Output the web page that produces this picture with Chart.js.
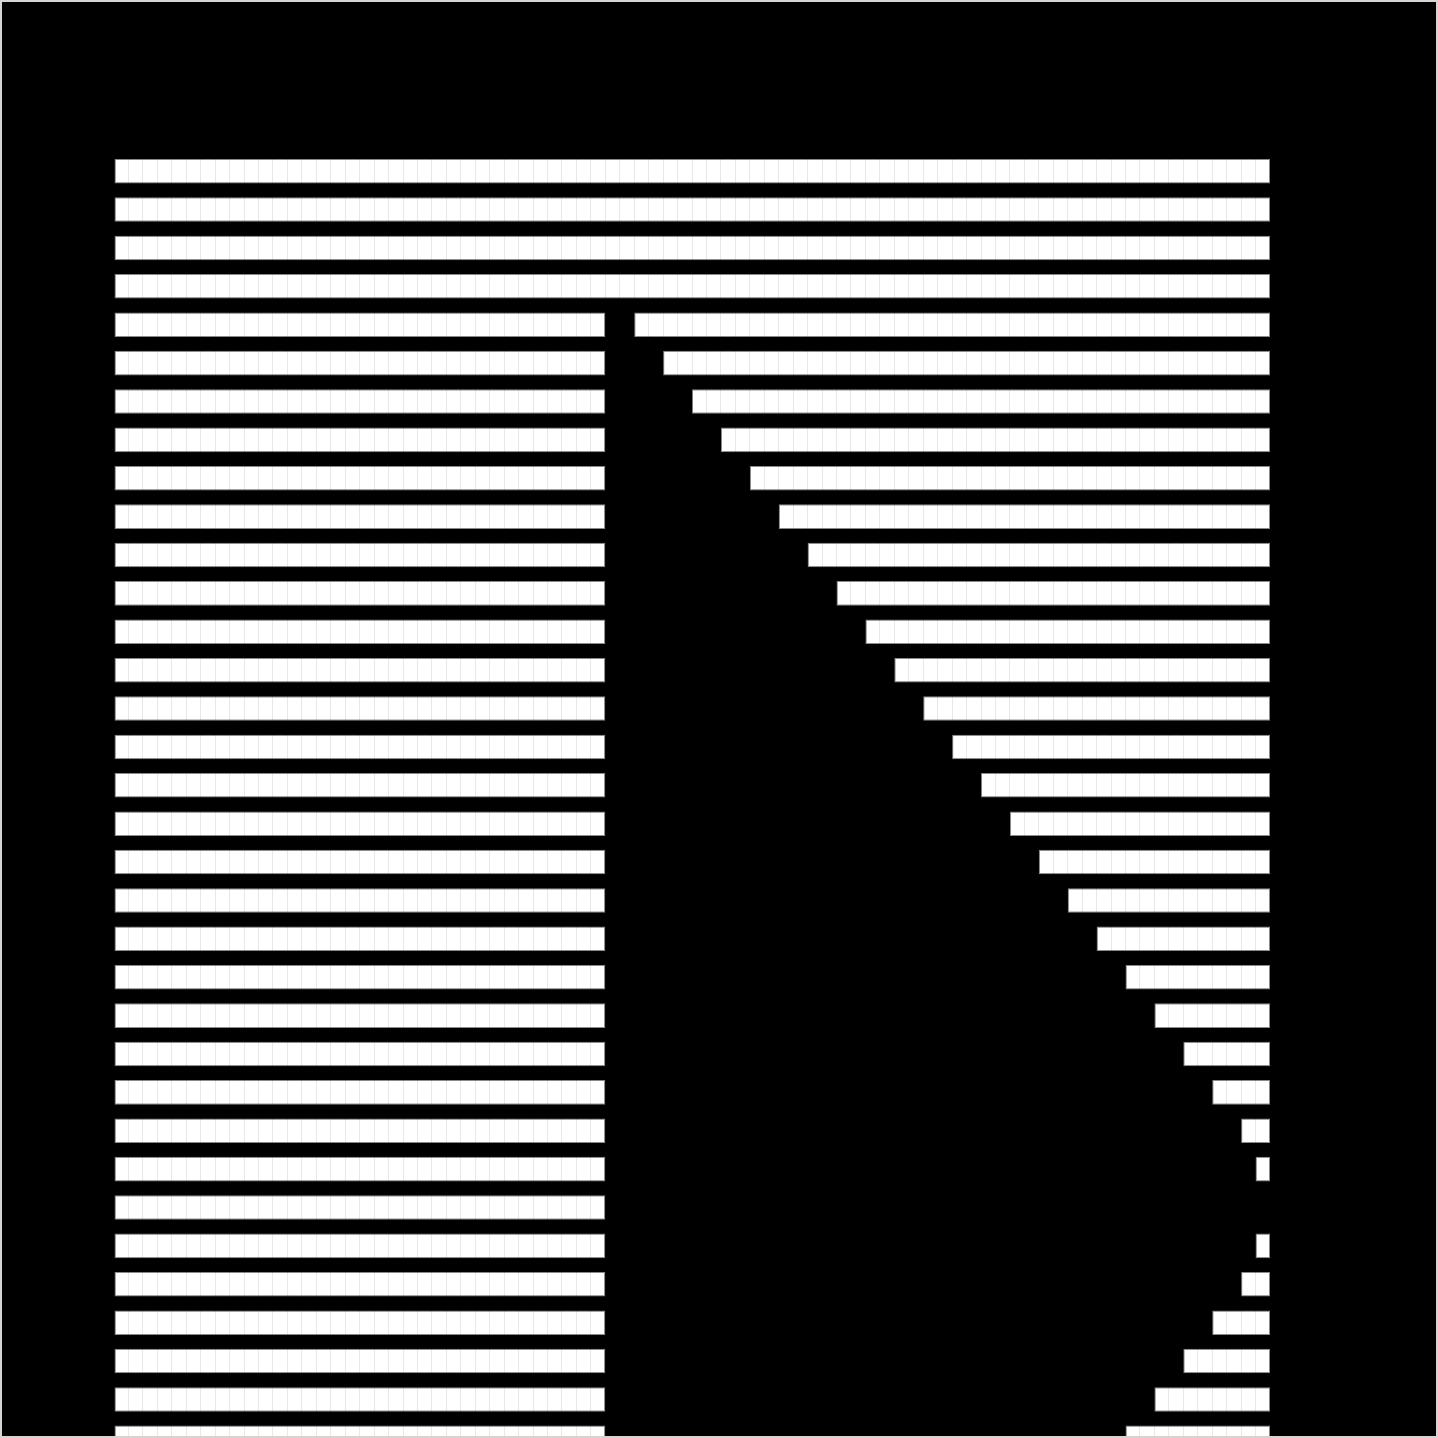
<!DOCTYPE html>
<html>
<head>
<meta charset="utf-8">
<script src="https://cdn.jsdelivr.net/npm/chart.js@4"></script>
<style>
  html, body { margin: 0; padding: 0; background: #000; }
  #frame {
    position: relative;
    width: 1438px; height: 1438px;
    box-sizing: border-box;
    border: 2px solid #d6d3d0;
    background: #000;
    overflow: hidden;
  }
  #wrap {
    position: absolute;
    left: 112px; top: 150.4px;
    width: 1156px; height: 1305px;
  }
</style>
</head>
<body>
<div id="frame">
  <div id="wrap"><canvas id="bars"></canvas></div>
</div>
<script>
// rows from top to bottom, x scale 0..80
const rows = ["1","2","3","4","5","6","7","8","9","10","11","12","13","14","15","16","17",
  "18","19","20","21","22","23","24","25","26","27","28","29","30","31","32","33","34"];
const leftPart = [80,80,80,80,34,34,34,34,34,34,34,34,34,34,34,34,34,
  34,34,34,34,34,34,34,34,34,34,34,34,34,34,34,34,34];
const gapPart = [0,0,0,0,2,4,6,8,10,12,14,16,18,20,22,24,26,
  28,30,32,34,36,38,40,42,44,45,46,45,44,42,40,38,36];
const rightPart = [0,0,0,0,44,42,40,38,36,34,32,30,28,26,24,22,20,
  18,16,14,12,10,8,6,4,2,1,0,1,2,4,6,8,10];
const xMax = 80;

const barStyle = {
  backgroundColor: "#ffffff",
  borderColor: "#8a8a8a",
  borderWidth: 1,
  borderSkipped: false,
  barPercentage: 0.64,
  categoryPercentage: 1
};

new Chart(document.getElementById("bars"), {
  type: "bar",
  data: {
    labels: rows,
    datasets: [
      Object.assign({ label: "left", data: leftPart }, barStyle),
      { label: "gap", data: gapPart, backgroundColor: "rgba(0,0,0,0)", borderWidth: 0,
        barPercentage: 0.64, categoryPercentage: 1 },
      Object.assign({ label: "right", data: rightPart }, barStyle)
    ]
  },
  options: {
    indexAxis: "y",
    responsive: true,
    maintainAspectRatio: false,
    animation: false,
    layout: { padding: 0 },
    plugins: { legend: { display: false }, tooltip: { enabled: false } },
    scales: {
      x: {
        stacked: true,
        min: 0, max: xMax,
        ticks: { display: false, stepSize: 1, maxTicksLimit: 200 },
        grid: { color: "rgba(0,0,0,0.09)", drawTicks: false, z: 1 },
        border: { display: false },
        afterFit: s => { s.height = 0; }
      },
      y: {
        stacked: true,
        display: false
      }
    }
  }
});
</script>
</body>
</html>
